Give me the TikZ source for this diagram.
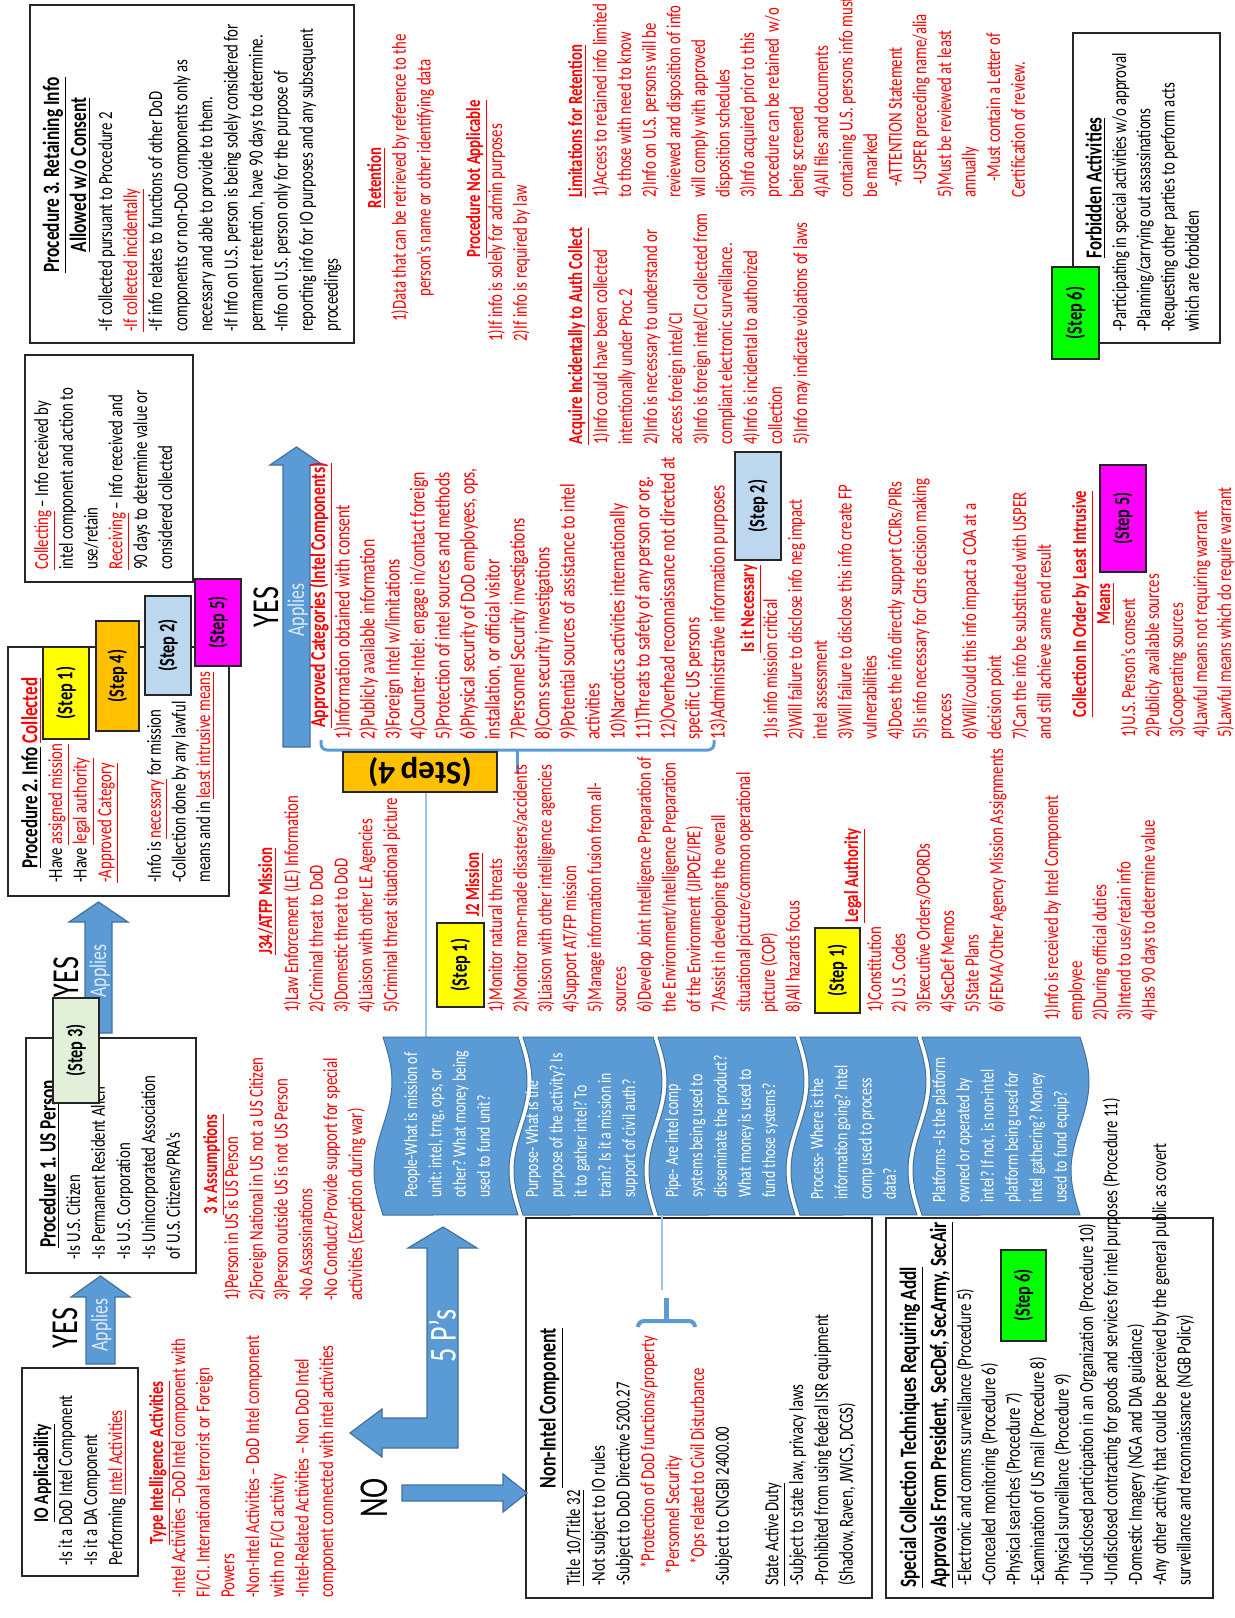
\documentclass[tikz,border=0pt]{standalone}
\usepackage{fontspec}
\setmainfont{Carlito}[FakeStretch=0.74]
\newfontfamily\plainfont{Carlito}
\usetikzlibrary{positioning}

\definecolor{pblue}{HTML}{5B9BD5}
\definecolor{pedge}{HTML}{41719C}
\definecolor{linkblue}{HTML}{9DC3E6}
\definecolor{appliestext}{HTML}{DEEBF7}
\definecolor{stepyellow}{HTML}{FFFF00}
\definecolor{steporange}{HTML}{FFC000}
\definecolor{stepblue}{HTML}{BDD7EE}
\definecolor{stepmagenta}{HTML}{FF00FF}
\definecolor{stepgreen}{HTML}{00FF00}
\definecolor{steppale}{HTML}{E2F0D9}

\newcommand{\fsz}[2]{\fontsize{#1}{#2}\selectfont}
% narrow word space to go with the narrow letters
\makeatletter
\newcommand{\fixspace}{\frenchspacing\spaceskip=0.17\dimexpr\f@size pt\relax\relax\xspaceskip=\spaceskip}
\makeatother
\newcommand{\redul}[1]{\textcolor{red}{\underline{#1}}}
\newcommand{\redtx}[1]{\textcolor{red}{#1}}
% one wavy band piece, left and right edge
\newcommand{\wavepiece}[2]{%
  \path[wave] (#1,1037) -- (#2,1037)
    -- plot[domain=0:1,samples=40,variable=\t] ({#2+9*sin(360*\t)},{1037+178*\t})
    -- (#1,1215)
    -- plot[domain=1:0,samples=40,variable=\t] ({#1+9*sin(360*\t)},{1037+178*\t})
    -- cycle;}

\begin{document}
\begin{tikzpicture}[x=0.5pt,y=-0.5pt,
  txt/.style={rotate=90,anchor=base west,inner sep=0pt,align=left,text width=280pt,font=\fsz{10}{12.4},execute at begin node=\fixspace},
  ctxt/.style={rotate=90,anchor=base,inner sep=0pt,align=center,text width=280pt,font=\fsz{10}{12.4},execute at begin node=\fixspace},
  bigword/.style={rotate=90,anchor=base,inner sep=0pt,font=\fsz{19}{19},execute at begin node=\fixspace},
  panel/.style={draw=black!85,line width=0.9pt},
  stepbox/.style={draw=black!85,line width=0.9pt,rotate=90,inner sep=0pt,font=\bfseries\fsz{11}{11},execute at begin node=\fixspace},
  blockarrow/.style={fill=pblue,draw=pedge,line width=0.6pt},
  wave/.style={fill=pblue,draw=pedge,line width=0.5pt},
  hook/.style={pblue,line width=1.5pt,rounded corners=3pt}]

\path[use as bounding box,fill=white] (0,0) rectangle (1235,1618);

% boxes
\draw[panel] (30,5) rectangle (354,343);
\draw[panel] (25,355) rectangle (193,582);
\draw[panel] (8,647) rectangle (229,896);
\draw[panel] (1073,33) rectangle (1220,343);
\draw[panel] (26,1038) rectangle (196,1273);
\draw[panel] (22,1368) rectangle (138,1576);
\draw[panel] (526,1218) rectangle (872,1598);
\draw[panel] (886,1218) rectangle (1213,1598);

% block arrows
\path[blockarrow] (283,747) -- (283,465) -- (270,465) -- (296.5,447) -- (323,465) -- (310,465) -- (310,747) -- cycle;
\path[blockarrow] (85,1033) -- (85,922) -- (69,922) -- (98.5,902) -- (128,922) -- (112,922) -- (112,1033) -- cycle;
\path[blockarrow] (86,1364) -- (86,1297) -- (71,1297) -- (100.5,1276) -- (130,1297) -- (115,1297) -- (115,1364) -- cycle;
\path[blockarrow] (443,1227) -- (477,1248) -- (458,1248) -- (458,1448) -- (382,1448) -- (382,1457) -- (350,1433)
  -- (382,1409) -- (382,1418) -- (427,1418) -- (427,1248) -- (408,1248) -- cycle;
\path[blockarrow] (402,1485) -- (503,1485) -- (503,1474) -- (527,1493) -- (503,1512) -- (503,1501) -- (402,1501) -- cycle;

\node[bigword] (yes3) at (278,607) {YES};
\node[bigword,text=appliestext,font=\fsz{12}{12}] (applies3) at (304,610) {Applies};
\node[bigword] (yes2) at (78,977) {YES};
\node[bigword,text=appliestext,font=\fsz{12}{12}] (applies2) at (106,971) {Applies};
\node[bigword] (yes1) at (77,1328) {YES};
\node[bigword,text=appliestext,font=\fsz{12}{12}] (applies1) at (107.5,1325) {Applies};
\node[bigword,text=white] (fiveps) at (455.5,1336) {5 P's};
\node[bigword,font=\fsz{20.5}{20.5}] (no) at (387.5,1498) {NO};

% procedure 3
\node[ctxt,font=\bfseries\fsz{11.7}{13.5}] (p3title) at (59,175) {\underline{Procedure 3. Retaining Info}\\\underline{Allowed w/o Consent}};
\node[txt,font=\fsz{10}{12.55}] (p3body) at (112,332) {-If collected pursuant to Procedure 2\\
\redul{-If collected incidentally}\\
-If info relates to functions of other DoD\\
components or non-DoD components only as\\
necessary and able to provide to them.\\
-If Info on U.S. person is being solely considered for\\
permanent retention, have 90 days to determine.\\
-Info on U.S. person only for the purpose of\\
reporting info for IO purposes and any subsequent\\
proceedings};

\node[ctxt,text=red] (retention) at (381,178) {\textbf{\underline{Retention}}\\1)Data that can be retrieved by reference to the\\person's name or other identifying data};
\node[ctxt,text=red,font=\bfseries\fsz{10}{12.4}] (notapp) at (480,179) {\underline{Procedure Not Applicable}};
\node[txt,text=red] (notapplist) at (502,342) {1)If info is solely for admin purposes\\2)If info is required by law};

\node[txt,text=red,font=\fsz{10}{12.3}] (limits) at (582,198) {\textbf{\underline{Limitations for Retention}}\\
1)Access to retained info limited\\
to those with need to know\\
2)Info on U.S. persons will be\\
reviewed and disposition of info\\
will comply with approved\\
disposition schedules\\
3)Info acquired prior to this\\
procedure can be retained\ \ w/o\\
being screened\\
4)All files and documents\\
containing U.S. persons info must\\
be marked\\
\hspace*{5.5pt}-ATTENTION Statement\\
\hspace*{6.5pt}-USPER preceding name/alia\\
5)Must be reviewed at least\\
annually\\
\hspace*{8pt}-Must contain a Letter of\\
Certification of review.};

\node[txt,text=red,font=\fsz{10}{12.5}] (acquire) at (582,445) {\textbf{\underline{Acquire Incidentally to Auth Collect}}\\
1)Info could have been collected\\
intentionally under Proc 2\\
2)Info is necessary to understand or\\
access foreign intel/CI\\
3)Info is foreign intel/CI collected from\\
compliant electronic surveillance.\\
4)Info is incidental to authorized\\
collection\\
5)Info may indicate violations of laws};

\node[txt] (collecting) at (48,570) {\redul{Collecting} – Info received by\\intel component and action to\\use/retain\\\redul{Receiving} – Info received and\\90 days to determine value or\\considered collected};

% procedure 2
\node[ctxt,font=\bfseries\fsz{11.5}{13}] (p2title) at (37.5,773) {\underline{Procedure 2. Info} \redul{Collected}};
\node[txt,font=\fsz{10}{12.35}] (p2body) at (62,883) {-Have \redul{assigned mission}\\-Have \redul{legal authority}\\\redul{-Approved Category}\\[12.35pt]
-Info is \redul{necessary} for mission\\-Collection done by any lawful\\means and in \redul{least intrusive means}};
\node[stepbox,fill=stepyellow,minimum width=46pt,minimum height=23pt] (p2step1) at (66,693) {(Step 1)};
\node[stepbox,fill=steporange,minimum width=55pt,minimum height=21.5pt] (p2step4) at (117.5,676) {(Step 4)};
\node[stepbox,fill=stepblue,minimum width=49.5pt,minimum height=23pt] (p2step2) at (168,645.5) {(Step 2)};
\node[stepbox,fill=stepmagenta,minimum width=43.5pt,minimum height=23pt] (p2step5) at (218,622.5) {(Step 5)};

% approved categories
\node[txt,text=red,font=\bfseries\fsz{10.6}{12.5}] (apptitle) at (325,728) {\underline{Approved Categories (Intel Components)}};
\node[txt,text=red,font=\fsz{10.6}{12.5}] (applist) at (349.5,740) {1)Information obtained with consent\\
2)Publicly available information\\
3)Foreign Intel w/limitations\\
4)Counter-Intel: engage in/contact foreign\\
5)Protection of intel sources and methods\\
6)Physical security of DoD employees, ops,\\
installation, or official visitor\\
7)Personnel Security investigations\\
8)Coms security investigations\\
9)Potential sources of assistance to intel\\
activities\\
10)Narcotics activities internationally\\
11)Threats to safety of any person or org.\\
12)Overhead reconnaissance not directed at\\
specific US persons\\
13)Administrative information purposes};
\draw[hook] (321,740) |- (517,750) -| (714,740);
\draw[hook] (517,750) -- (517,773);
\node[stepbox,rotate=90,fill=steporange,minimum width=77pt,minimum height=20pt,font=\plainfont\bfseries\fsz{16.5}{16.5}] (bigstep4) at (420,772) {(Step 4)};

% mission columns
\node[txt,text=red,font=\bfseries\fsz{10}{12.4}] (j34title) at (272,955) {\underline{J34/ATFP Mission}};
\node[txt,text=red] (j34list) at (298,1013) {1)Law Enforcement (LE) Information\\2)Criminal threat to DoD\\3)Domestic threat to DoD\\4)Liaison with other LE Agencies\\5)Criminal threat situational picture};

\node[stepbox,fill=stepyellow,minimum width=42pt,minimum height=23.5pt] (j2step1) at (460.5,965) {(Step 1)};
\node[txt,text=red,font=\bfseries\fsz{10}{12.4}] (j2title) at (479,917) {\underline{J2 Mission}};
\node[txt,text=red] (j2list) at (502,1013) {1)Monitor natural threats\\
2)Monitor man-made disasters/accidents\\
3)Liaison with other intelligence agencies\\
4)Support AT/FP mission\\
5)Manage information fusion from all-\\
sources\\
6)Develop Joint Intelligence Preparation of\\
the Environment/Intelligence Preparation\\
of the Environment (JIPOE/IPE)\\
7)Assist in developing the overall\\
situational picture/common operational\\
picture (COP)\\
8)All hazards focus};

\node[stepbox,fill=stepyellow,minimum width=42.5pt,minimum height=22.5pt] (legalstep1) at (837.5,970.5) {(Step 1)};
\node[txt,text=red,font=\bfseries\fsz{10}{12.2}] (legaltitle) at (858,923) {\underline{Legal Authority}};
\node[txt,text=red,font=\fsz{10}{12.2}] (legallist) at (881,1013) {1)Constitution\\2) U.S. Codes\\3)Executive Orders/OPORDs\\4)SecDef Memos\\5)State Plans\\6)FEMA/Other Agency Mission Assignments};
\node[txt,text=red,font=\fsz{10}{12.1}] (received) at (1058,1021) {1)Info is received by Intel Component\\employee\\2)During official duties\\3)Intend to use/retain info\\4)Has 90 days to determine value};

\node[stepbox,fill=stepblue,minimum width=54pt,minimum height=23pt] (necstep2) at (758,506) {(Step 2)};
\node[txt,text=red,font=\bfseries\fsz{10}{12.45}] (nectitle) at (754,653) {\underline{Is it Necessary}};
\node[txt,text=red,font=\fsz{10}{12.45}] (neclist) at (777,740) {1)Is info mission critical\\
2)Will failure to disclose info neg impact\\
intel assessment\\
3)Will failure to disclose this info create FP\\
vulnerabilities\\
4)Does the info directly support CCIRs/PIRs\\
5)Is info necessary for Cdrs decision making\\
process\\
6)Will/could this info impact a COA at a\\
decision point\\
7)Can the info be substituted with USPER\\
and still achieve same end result};

\node[stepbox,fill=stepmagenta,minimum width=53.5pt,minimum height=23pt] (meansstep5) at (1123,518.5) {(Step 5)};
\node[ctxt,text=red,font=\bfseries\fsz{10}{12}] (meanstitle) at (1086,604) {\underline{Collection In Order by Least Intrusive}\\\underline{Means}};
\node[txt,text=red,font=\fsz{10}{12}] (meanslist) at (1135,738) {1)U.S. Person's consent\\2)Publicly available sources\\3)Cooperating sources\\4)Lawful means not requiring warrant\\5)Lawful means which do require warrant};

% forbidden
\node[stepbox,fill=stepgreen,minimum width=46pt,minimum height=23.5pt] (forbstep6) at (1075.5,313) {(Step 6)};
\node[ctxt,font=\bfseries\fsz{11.5}{12}] (forbtitle) at (1101.5,188) {\underline{Forbidden Activities}};
\node[txt,font=\fsz{10}{12.15}] (forblist) at (1126,332) {-Participating in special activities w/o approval\\-Planning/carrying out assassinations\\-Requesting other parties to perform acts\\which are forbidden};

% procedure 1 and IO applicability
\node[txt,font=\bfseries\fsz{11.7}{12}] (p1title) at (55.5,1248) {\underline{Procedure 1. US Person}};
\node[txt,font=\fsz{10}{12.5}] (p1body) at (80,1260) {-Is U.S. Citizen\\-Is Permanent Resident Alien\\-Is U.S. Corporation\\-Is Unincorporated Association\\of U.S. Citizens/PRA's};
\node[stepbox,fill=steppale,minimum width=52.5pt,minimum height=23pt] (p1step3) at (76,1050.5) {(Step 3)};

\node[ctxt,font=\bfseries\fsz{10.5}{12}] (iotitle) at (48,1473) {\underline{IO Applicability}};
\node[txt,font=\fsz{10}{12.5}] (iobody) at (72,1566) {-Is it a DoD Intel Component\\-Is it a DA Component\\Performing \redul{Intel Activities}};

\node[txt,text=red,font=\bfseries\fsz{10}{12.4}] (typetitle) at (163,1545) {\underline{Type Intelligence Activities}};
\node[txt,text=red,font=\fsz{10}{12.35}] (typelist) at (185,1598) {-Intel Activities –DoD Intel component with\\
FI/CI. International terrorist or Foreign\\
Powers\\
-Non-Intel Activities – DoD Intel component\\
with no FI/CI activity\\
-Intel-Related Activities – Non DoD Intel\\
component connected with intel activities};

\node[txt,text=red,font=\bfseries\fsz{10}{12.4}] (assumetitle) at (217,1215) {\underline{3 x Assumptions}};
\node[txt,text=red] (assumelist) at (238,1301) {1)Person in US is US Person\\
2)Foreign National in US not a US Citizen\\
3)Person outside US is not US Person\\
-No Assassinations\\
-No Conduct/Provide support for special\\
activities (Exception during war)};

% 5 P's band
\coordinate (peopleTop) at (426,1037);
\draw[linkblue,line width=0.8pt] (bigstep4.north -| peopleTop) -- (peopleTop);
\wavepiece{383}{518}
\wavepiece{523}{653}
\wavepiece{658}{795}
\wavepiece{800}{917}
\wavepiece{922}{1080}
\node[txt,text=white,font=\fsz{9.3}{12.15}] (people) at (417,1198) {People-What is mission of\\unit: intel, trng, ops, or\\other? What money being\\used to fund unit?};
\node[txt,text=white,font=\fsz{9.3}{12.15}] (purpose) at (538,1198) {Purpose- What is the\\purpose of the activity? Is\\it to gather intel? To\\train? Is it a mission in\\support of civil auth?};
\node[txt,text=white,font=\fsz{9.3}{12.15}] (pipe) at (678,1198) {Pipe- Are intel comp\\systems being used to\\disseminate the product?\\What money is used to\\fund those systems?};
\node[txt,text=white,font=\fsz{9.3}{12.15}] (process) at (823,1200) {Process- Where is the\\information going? Intel\\comp used to process\\data?};
\node[txt,text=white,font=\fsz{9.3}{12.15}] (platforms) at (945,1203) {Platforms –Is the platform\\owned or operated by\\intel? If not, is non-intel\\platform being used for\\intel gathering? Money\\used to fund equip?};

% non-intel component
\coordinate (pipeFoot) at (662,1215);
\coordinate (hookTop) at (662,1290);
\draw[linkblue,line width=0.8pt] (pipeFoot) -- (hookTop);
\draw[hook,line width=2pt] (638,1327) |- (666,1321) -| (695,1327);
\draw[pblue,line width=2.5pt] (666,1321) -- (666,1298);
\node[ctxt,font=\bfseries\fsz{12}{12}] (nititle) at (555.5,1408) {\underline{Non-Intel Component}};
\node[txt,font=\fsz{10}{12.4}] (nibody) at (580,1586) {\underline{Title 10/Title 32}\\
-Not subject to IO rules\\
-Subject to DoD Directive 5200.27\\
\hspace*{8.5pt}\redtx{*Protection of DoD functions/property}\\
\hspace*{5.5pt}\redtx{*Personnel Security}\\
\hspace*{10.5pt}\redtx{*Ops related to Civil Disturbance}\\
-Subject to CNGBI 2400.00\\[12.4pt]
\underline{State Active Duty}\\
-Subject to state law, privacy laws\\
-Prohibited from using federal ISR equipment\\
(Shadow, Raven, JWICS, DCGS)};

% special collection
\node[stepbox,fill=stepgreen,minimum width=45.5pt,minimum height=22.5pt] (specstep6) at (1023.5,1295.5) {(Step 6)};
\node[txt,font=\bfseries\fsz{11.7}{15}] (spectitle) at (916,1588) {\underline{Special Collection Techniques Requiring Addl}\\\underline{Approvals From President, SecDef, SecArmy, SecAir}};
\node[txt,font=\fsz{10}{12.2}] (speclist) at (971,1586) {-Electronic and comms surveillance (Procedure 5)\\
-Concealed monitoring (Procedure 6)\\
-Physical searches (Procedure 7)\\
-Examination of US mail (Procedure 8)\\
-Physical surveillance (Procedure 9)\\
-Undisclosed participation in an Organization (Procedure 10)\\
-Undisclosed contracting for goods and services for intel purposes (Procedure 11)\\
-Domestic Imagery (NGA and DIA guidance)\\
-Any other activity that could be perceived by the general public as covert\\
surveillance and reconnaissance (NGB Policy)};
\end{tikzpicture}
\end{document}
